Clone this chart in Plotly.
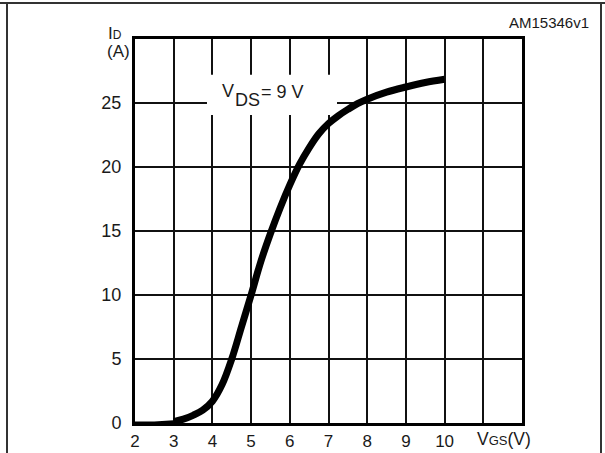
import plotly.graph_objects as go

# Transfer characteristic: drain current vs gate-source voltage
vgs = [2.0, 2.5, 3.0, 3.25, 3.5, 3.75, 4.0, 4.25, 4.5, 4.75, 5.0, 5.25, 5.5,
       5.75, 6.0, 6.25, 6.5, 6.75, 7.0, 7.25, 7.5, 7.75, 8.0, 8.5, 9.0, 9.5,
       10.0]
i_d = [0.0, 0.0, 0.1, 0.3, 0.6, 1.0, 1.7, 3.0, 5.0, 7.5, 10.0, 12.6, 14.8,
       16.8, 18.6, 20.2, 21.5, 22.6, 23.4, 24.0, 24.5, 24.95, 25.3, 25.85,
       26.25, 26.6, 26.85]

x_ticks = [2, 3, 4, 5, 6, 7, 8, 9, 10, 11]
x_tick_text = ["2", "3", "4", "5", "6", "7", "8", "9", "10", ""]
y_ticks = [0, 5, 10, 15, 20, 25]
y_tick_text = ["0", "5", "10", "15", "20", "25"]

W, H = 605, 453
L, R, T, B = 135, 83, 39, 30
PW, PH = W - L - R, H - T - B

FONT = "Liberation Sans, Arial, sans-serif"
INK = "#1a1a1a"


def px(x):
    return (x - L) / PW


def py(y):
    return (H - B - y) / PH


def dx(x):
    return 2 + (x - L) / (PW / 10)


def dy(y):
    return (H - B - y) / (PH / 30)


fig = go.Figure()

# thin foot of the curve lying on the axis, then the thick main stroke
split = 2
fig.add_trace(go.Scatter(x=vgs[:split + 1], y=i_d[:split + 1], mode="lines",
                         line=dict(color="black", width=3), hoverinfo="skip"))
fig.add_trace(go.Scatter(x=vgs[split:], y=i_d[split:], mode="lines",
                         line=dict(color="black", width=7, shape="spline",
                                   smoothing=1.0),
                         hoverinfo="skip"))

shapes = [
    # white box behind the condition label, between grid and curve
    dict(type="rect", xref="x", yref="y", x0=3.86, x1=7.22, y0=24.06, y1=27.2,
         fillcolor="white", line=dict(width=0), layer="between"),
    # outer frame
    dict(type="line", xref="paper", yref="paper", x0=px(0), x1=px(W),
         y0=py(3), y1=py(3), line=dict(color="#333", width=2)),
    dict(type="line", xref="paper", yref="paper", x0=px(7), x1=px(7),
         y0=py(3), y1=py(H), line=dict(color="#333", width=2)),
    dict(type="line", xref="paper", yref="paper", x0=px(601), x1=px(601),
         y0=py(3), y1=py(H), line=dict(color="#333", width=2)),
]

annotations = [
    dict(text="V", x=dx(220), y=dy(91), xanchor="left", yanchor="middle",
         font=dict(size=18, color=INK, family=FONT)),
    dict(text="DS", x=dx(233), y=dy(99.5), xanchor="left", yanchor="middle",
         font=dict(size=18, color=INK, family=FONT)),
    dict(text="= 9 V", x=dx(259), y=dy(92), xanchor="left", yanchor="middle",
         font=dict(size=18, color=INK, family=FONT)),
    dict(text="I<span style='font-size:12px'>D</span>", xref="paper",
         yref="paper", x=px(106), y=py(33), xanchor="left", yanchor="middle",
         font=dict(size=17, color=INK, family=FONT)),
    dict(text="(A)", xref="paper", yref="paper", x=px(105), y=py(52),
         xanchor="left", yanchor="middle",
         font=dict(size=17, color=INK, family=FONT)),
    dict(text="V<span style='font-size:13px'>GS</span>(V)", xref="paper",
         yref="paper", x=px(475), y=py(438.5), xanchor="left",
         yanchor="middle", font=dict(size=17.5, color=INK, family=FONT)),
    dict(text="AM15346v1", xref="paper", yref="paper", x=px(591), y=py(22.5),
         xanchor="right", yanchor="middle",
         font=dict(size=15, color=INK, family=FONT)),
]
for a in annotations:
    a.setdefault("showarrow", False)
    if "xref" not in a:
        a["xref"] = "x"
        a["yref"] = "y"

fig.update_layout(
    width=W, height=H,
    margin=dict(l=L, r=R, t=T, b=B, pad=0, autoexpand=False),
    paper_bgcolor="white", plot_bgcolor="white",
    showlegend=False,
    shapes=shapes,
    annotations=annotations,
    font=dict(family=FONT, color=INK, size=18),
)
fig.update_xaxes(range=[2, 12], tickvals=x_ticks, ticktext=x_tick_text,
                 showgrid=True, gridcolor="#111", gridwidth=2,
                 showline=True, linecolor="black", linewidth=3, mirror=True,
                 zeroline=False, ticks="", ticklabelstandoff=1,
                 automargin=False,
                 tickfont=dict(size=17, color=INK, family=FONT))
fig.update_yaxes(range=[0, 30], tickvals=y_ticks, ticktext=y_tick_text,
                 showgrid=True, gridcolor="#111", gridwidth=2,
                 showline=True, linecolor="black", linewidth=3, mirror=True,
                 zeroline=False, ticks="", ticklabelstandoff=7,
                 automargin=False,
                 tickfont=dict(size=18, color=INK, family=FONT))

fig.write_html("out.html")
